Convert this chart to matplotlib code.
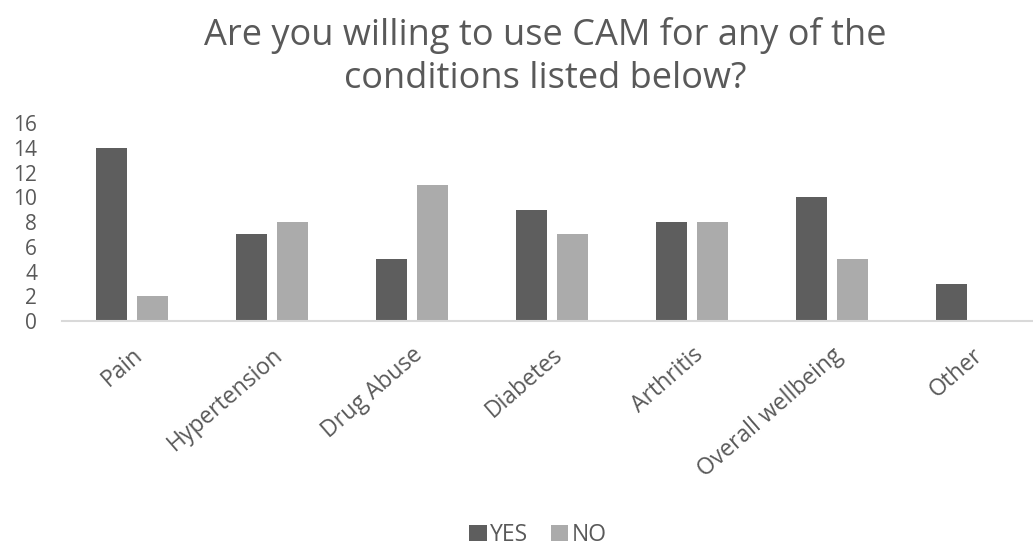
import matplotlib

matplotlib.use("Agg")
import matplotlib.pyplot as plt  # noqa: E402
import numpy as np  # noqa: E402

plt.rcParams["font.family"] = ["Open Sans", "DejaVu Sans"]

conditions = ["Pain", "Hypertension", "Drug Abuse", "Diabetes", "Arthritis",
              "Overall wellbeing", "Other"]
yes_counts = [14, 7, 5, 9, 8, 10, 3]
no_counts = [2, 8, 11, 7, 8, 5, 0]
y_ticks = [0, 2, 4, 6, 8, 10, 12, 14, 16]

TEXT = "#595959"
YES_C = "#5e5e5e"
NO_C = "#ababab"

fig = plt.figure(figsize=(10.33, 5.46), dpi=100)
# axes run past the right edge, the way the chart was cut
ax = fig.add_axes([62 / 1033, 1 - 321 / 546, 980 / 1033, 198 / 546])

x = np.arange(len(conditions))
w = 0.22
off = 0.146
ax.bar(x - off, yes_counts, w, color=YES_C, label="YES")
ax.bar(x + off, no_counts, w, color=NO_C, label="NO")

ax.set_xlim(-0.5, len(conditions) - 0.5)
ax.set_ylim(0, 16)
ax.set_yticks(y_ticks)
ax.set_yticklabels([str(t) for t in y_ticks], fontsize=15, color=TEXT)
ax.set_xticks(x)
ax.set_xticklabels(conditions, rotation=41, ha="right", rotation_mode="anchor",
                   fontsize=16.5, color=TEXT)
ax.tick_params(axis="both", length=0)
ax.tick_params(axis="y", pad=18)
ax.tick_params(axis="x", pad=16)
for side in ("top", "right", "left"):
    ax.spines[side].set_visible(False)
ax.spines["bottom"].set_color("#d9d9d9")
ax.spines["bottom"].set_linewidth(1.5)

fig.text(545 / 1033, 1 - 57 / 546,
         "Are you willing to use CAM for any of the\nconditions listed below?",
         ha="center", va="center", fontsize=26, color=TEXT, linespacing=1.25)

fig.legend(loc="center", bbox_to_anchor=(538 / 1033, 1 - 535 / 546), ncol=2,
           frameon=False, fontsize=16.5, handlelength=0.75, handleheight=0.75,
           handletextpad=0.15, columnspacing=1.0, labelcolor=TEXT,
           borderpad=0.2)

fig.savefig("out.png", dpi=100)
